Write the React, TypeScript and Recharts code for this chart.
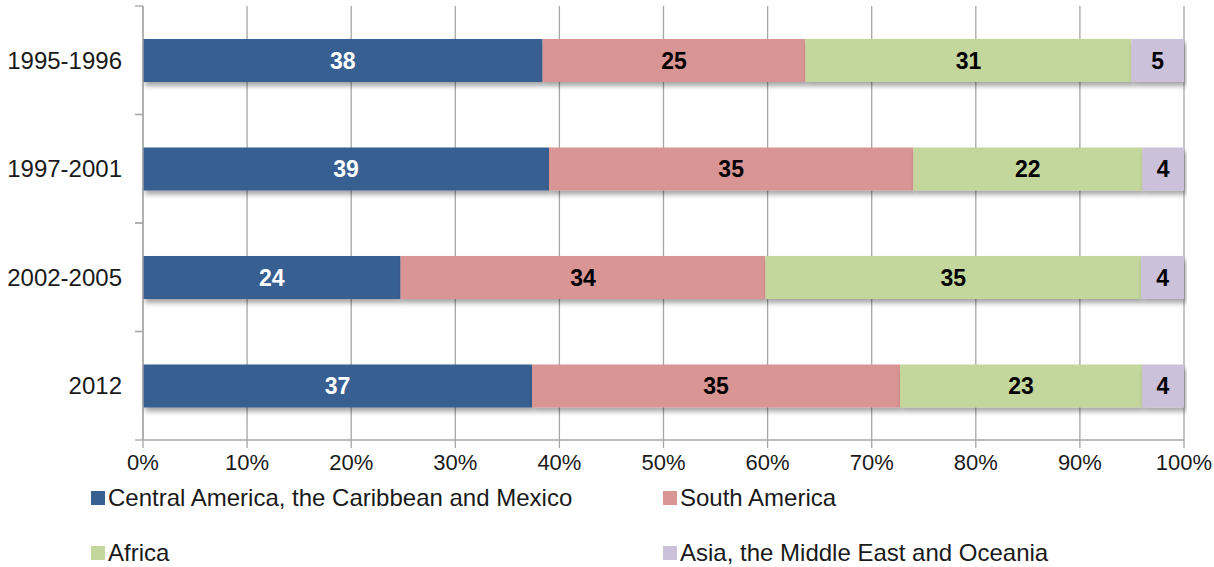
import React from "react";
import { BarChart, Bar, XAxis, YAxis, CartesianGrid, LabelList, Legend } from "recharts";

const periods = ["1995-1996", "1997-2001", "2002-2005", "2012"];
const centralAmerica = [38, 39, 24, 37];
const southAmerica = [25, 35, 34, 35];
const africa = [31, 22, 35, 23];
const asia = [5, 4, 4, 4];
const xTicks = [0, 0.1, 0.2, 0.3, 0.4, 0.5, 0.6, 0.7, 0.8, 0.9, 1];

const seriesInfo = [
  { key: "ca", name: "Central America, the Caribbean and Mexico", color: "#375F92", label: "#FFFFFF" },
  { key: "sa", name: "South America", color: "#D99594", label: "#000000" },
  { key: "af", name: "Africa", color: "#C3D69B", label: "#000000" },
  { key: "as", name: "Asia, the Middle East and Oceania", color: "#CCC1DA", label: "#000000" },
];

const data = periods.map((p, i) => ({
  period: p,
  ca: centralAmerica[i],
  sa: southAmerica[i],
  af: africa[i],
  as: asia[i],
}));

const W = 1214;
const H = 567;
const TOP = 6;
const XAXIS_H = 45;
const LEGEND_H = 82;
const PLOT_BOTTOM = H - XAXIS_H - LEGEND_H;
const BAND = (PLOT_BOTTOM - TOP) / periods.length;
const FONT = "'Liberation Sans', Arial, sans-serif";
const GRID = "#A6A6A6";

const YTick = (props: any) => {
  const { x, y, payload } = props;
  return (
    <g>
      <line x1={x} x2={x + 8} y1={y - BAND / 2} y2={y - BAND / 2} stroke={GRID} strokeWidth={1.3} />
      <line x1={x} x2={x + 8} y1={y + BAND / 2} y2={y + BAND / 2} stroke={GRID} strokeWidth={1.3} />
      <text x={x - 13} y={y} dy={8.5} textAnchor="end" fontSize={24} fill="#1a1a1a" fontFamily={FONT}>
        {payload.value}
      </text>
    </g>
  );
};

const LegendContent = () => (
  <div
    style={{
      position: "relative",
      width: W,
      height: LEGEND_H,
      fontFamily: FONT,
      fontSize: 24,
      color: "#1a1a1a",
    }}
  >
    {seriesInfo.map((s, i) => {
      const col = i % 2;
      const row = Math.floor(i / 2);
      return (
        <div
          key={s.key}
          style={{
            position: "absolute",
            left: col === 0 ? 91 : 663,
            top: row * 55 - 1,
            height: 28,
            display: "flex",
            alignItems: "center",
            whiteSpace: "nowrap",
          }}
        >
          <span style={{ display: "inline-block", width: 14, height: 14, background: s.color, marginRight: 3 }} />
          <span>{s.name}</span>
        </div>
      );
    })}
  </div>
);

export default function App() {
  return (
    <div style={{ position: "absolute", left: 0, top: 0, width: W, height: H, background: "#fff" }}>
      <BarChart
        width={W}
        height={H}
        data={data}
        layout="vertical"
        stackOffset="expand"
        margin={{ top: TOP, right: 30, left: 0, bottom: 0 }}
        barSize={43}
      >
        <defs>
          <filter id="shadow" x="-5%" y="-20%" width="110%" height="160%">
            <feDropShadow dx="2" dy="4" stdDeviation="2.5" floodColor="#000" floodOpacity="0.35" />
          </filter>
        </defs>
        <CartesianGrid horizontal={false} stroke={GRID} strokeWidth={1.3} />
        <XAxis
          type="number"
          domain={[0, 1]}
          ticks={xTicks}
          tickFormatter={(v: number) => `${Math.round(v * 100)}%`}
          height={XAXIS_H}
          stroke={GRID}
          strokeWidth={1.3}
          tickSize={8}
          tick={{ fontSize: 22, fill: "#1a1a1a", fontFamily: FONT }}
          tickMargin={6}
          interval={0}
        />
        <YAxis
          type="category"
          dataKey="period"
          width={143}
          stroke={GRID}
          strokeWidth={1.3}
          tickLine={false}
          tick={<YTick />}
        />
        <Legend verticalAlign="bottom" align="left" height={LEGEND_H} content={<LegendContent />} wrapperStyle={{ left: 0, width: W }} />
        {seriesInfo.map((s) => (
          <Bar
            key={s.key}
            dataKey={s.key}
            name={s.name}
            stackId="a"
            fill={s.color}
            isAnimationActive={false}
            style={{ filter: "url(#shadow)" }}
          >
            <LabelList
              dataKey={s.key}
              position="center"
              fill={s.label}
              fontSize={23}
              fontWeight="bold"
              fontFamily="'Liberation Sans Narrow', 'Liberation Sans', Arial, sans-serif"
            />
          </Bar>
        ))}
      </BarChart>
    </div>
  );
}
